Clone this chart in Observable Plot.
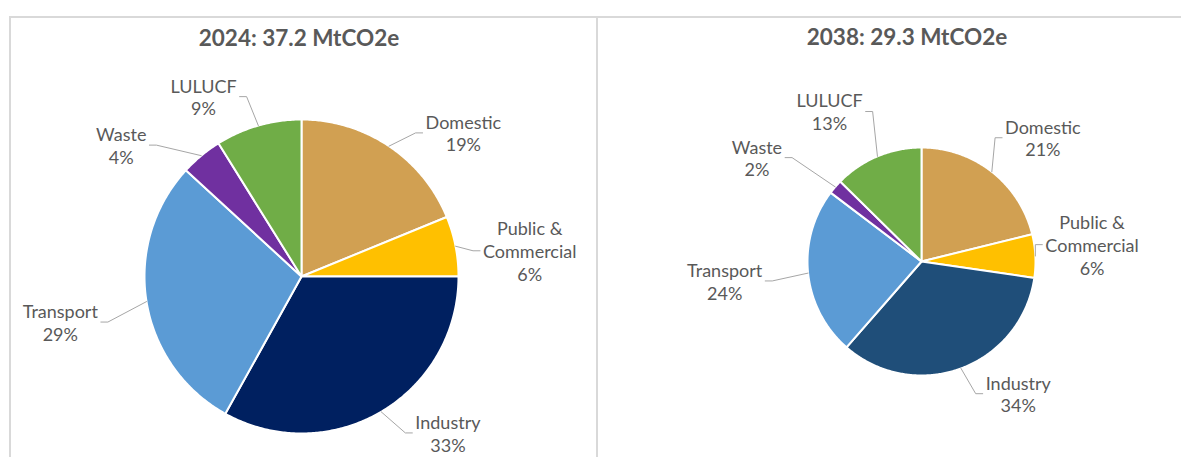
<!DOCTYPE html>
<html><head><meta charset="utf-8">
<script src="https://cdn.jsdelivr.net/npm/d3@7"></script>
<script src="https://cdn.jsdelivr.net/npm/@observablehq/plot@0.6"></script>
<style>
body{margin:0;background:#fff;font-family:Lato,"Open Sans",sans-serif;}
#wrap{position:relative;width:1181px;height:457px;overflow:hidden;background:#fff}
.panel{position:absolute;top:0}
.title{position:absolute;font-weight:bold;color:#595959;white-space:nowrap;transform:translate(-50%,-50%);font-family:Lato,sans-serif}
.line{position:absolute;background:#d9d9d9}
</style></head><body><div id="wrap"></div>
<script>
// ---- data ----
const categories = ["Domestic", "Public & Commercial", "Industry", "Transport", "Waste", "LULUCF"];
const labelNames = ["Domestic", "Public &\nCommercial", "Industry", "Transport", "Waste", "LULUCF"];
const years = ["2024", "2038"];
const values2024 = [7.0, 2.3, 12.3, 10.7, 1.6, 3.3];   // MtCO2e
const values2038 = [6.2, 1.8, 10.0, 7.0, 0.6, 3.7];    // MtCO2e
const colors2024 = ["#D1A052", "#FFC000", "#002060", "#5B9BD5", "#7030A0", "#70AD47"];
const colors2038 = ["#D1A052", "#FFC000", "#1F4E79", "#5B9BD5", "#7030A0", "#70AD47"];

// ---- layout ----
const H = 457;
const panels = [
  {year: years[0], values: values2024, colors: colors2024, left: 0, width: 597, cx: 301, cy: 276, r: 157,
   titleX: 299, titleY: 37, titleSize: 22.5,
   nudge: {"Domestic": [21, 10], "Public & Commercial": [0, 10], "Industry": [20, -3], "Transport": [-21, 16], "Waste": [-37, 11], "LULUCF": [-14, -2]}},
  {year: years[1], values: values2038, colors: colors2038, left: 597, width: 584, cx: 324, cy: 261, r: 114,
   titleX: 310, titleY: 36, titleSize: 22.5,
   nudge: {"Domestic": [-4, -12], "Public & Commercial": [-18, -10], "Industry": [15, -1], "Transport": [-18, 5], "Waste": [-32, -11], "LULUCF": [-4, -19]}}
];
const labelFont = 18, labelGap = 28;

const canvas = document.createElement("canvas");
const ctx = canvas.getContext("2d");
ctx.font = `${labelFont}px Lato`;
const textWidth = s => Math.max(...s.split("\n").map(t => ctx.measureText(t).width));

const wrap = document.getElementById("wrap");

for (const p of panels) {
  const {values, cx, cy, r, width: W} = p;
  const total = d3.sum(values);
  const arcs = d3.pie().sort(null).value(d => d)(values);

  // slice polygons in unit-radius space (y grows downward)
  const slicePts = [];
  arcs.forEach((a, i) => {
    const cat = categories[i];
    slicePts.push({cat, x: 0, y: 0});
    const n = Math.max(2, Math.ceil((a.endAngle - a.startAngle) / 0.01));
    for (let k = 0; k <= n; k++) {
      const t = a.startAngle + (a.endAngle - a.startAngle) * k / n;
      slicePts.push({cat, x: Math.sin(t), y: -Math.cos(t)});
    }
  });

  // labels and leader lines
  const labels = [], leaders = [];
  arcs.forEach((a, i) => {
    const cat = categories[i];
    const mid = (a.startAngle + a.endAngle) / 2;
    const sx = Math.sin(mid), sy = -Math.cos(mid);
    const side = sx >= 0 ? 1 : -1;
    const text = `${labelNames[i]}\n${Math.round(values[i] / total * 100)}%`;
    const hw = textWidth(text) / 2;
    const [nx, ny] = p.nudge[cat];
    const lx = sx * (r + labelGap) + side * hw + nx; // px relative to centre
    const ly = sy * (r + labelGap) + ny;
    labels.push({cat, text, x: lx / r, y: ly / r});
    const ax = lx - side * (hw + 3), ay = ly;
    leaders.push({cat, x: sx, y: sy});
    leaders.push({cat, x: (ax - side * 7) / r, y: ay / r});
    leaders.push({cat, x: ax / r, y: ay / r});
  });

  const chart = Plot.plot({
    width: W, height: H, margin: 0,
    x: {domain: [-cx / r, (W - cx) / r], range: [0, W], axis: null},
    y: {domain: [-cy / r, (H - cy) / r], range: [0, H], axis: null},
    color: {domain: categories, range: p.colors},
    style: {background: "transparent", overflow: "visible"},
    marks: [
      Plot.line(slicePts, {x: "x", y: "y", z: "cat", fill: "cat", stroke: "white", strokeWidth: 2, curve: "linear-closed"}),
      Plot.line(leaders, {x: "x", y: "y", z: "cat", stroke: "#A6A6A6", strokeWidth: 1, curve: "linear"}),
      Plot.text(labels, {x: "x", y: "y", text: "text", fill: "#595959", fontSize: labelFont, lineHeight: 1.26, fontFamily: "Lato"})
    ]
  });
  const div = document.createElement("div");
  div.className = "panel";
  div.style.left = p.left + "px";
  div.style.width = W + "px";
  div.style.height = H + "px";
  div.appendChild(chart);
  wrap.appendChild(div);

  const t = document.createElement("div");
  t.className = "title";
  t.style.left = (p.left + p.titleX) + "px";
  t.style.top = p.titleY + "px";
  t.style.fontSize = p.titleSize + "px";
  t.textContent = `${p.year}: ${total.toFixed(1)} MtCO2e`;
  wrap.appendChild(t);
}

// panel frame lines
for (const [l, t, w, h] of [[9, 16, 1172, 2], [9, 16, 2, 441], [596, 16, 2, 441]]) {
  const d = document.createElement("div");
  d.className = "line";
  Object.assign(d.style, {left: l + "px", top: t + "px", width: w + "px", height: h + "px"});
  wrap.appendChild(d);
}
</script></body></html>
